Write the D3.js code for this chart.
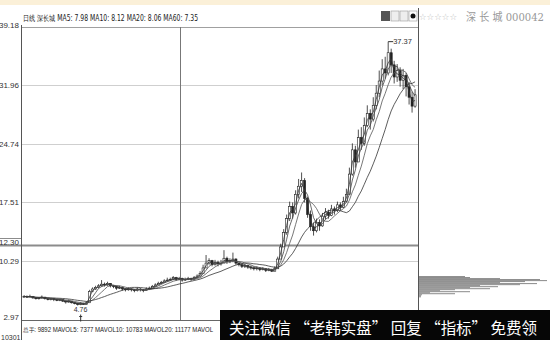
<!DOCTYPE html>
<html><head><meta charset="utf-8">
<script src="https://cdn.jsdelivr.net/npm/d3@7/dist/d3.min.js"></script>
<style>body{margin:0;background:#fff}svg{display:block}</style>
</head><body>
<svg id="c" width="550" height="340"></svg>
<script>
// ---- data ----
const closes = [5.9,5.8,5.9,5.7,5.6,5.7,5.8,5.6,5.5,5.6,5.5,5.4,5.5,
5.3,5.2,5.3,5.1,5.0,4.9,5.0,4.9,5.1,
6.5,6.8,7.0,7.2,7.4,7.3,7.5,7.2,7.1,6.9,7.0,6.8,6.7,6.8,
6.7,6.6,6.8,6.7,6.6,6.8,6.9,7.1,7.3,7.5,
7.6,7.8,7.9,8.0,8.2,8.0,8.1,
7.9,8.0,8.1,8.0,8.2,8.4,8.7,
9.4,10.0,10.3,9.8,10.1,
9.9,10.0,10.6,10.2,10.3,10.5,10.0,
9.8,9.6,9.7,9.5,9.4,
9.3,9.4,9.2,9.3,9.1,9.2,9.0,9.3,
10.5,12.0,13.8,15.5,
17.0,16.2,18.5,19.5,20.2,
18.0,16.0,14.5,14.0,
15.0,14.6,15.8,16.3,15.9,16.7,16.5,17.2,16.9,17.6,
18.5,21.0,24.0,22.5,25.5,
24.8,27.0,28.5,27.8,
29.5,31.0,32.5,34.0,
33.5,36.0,34.5,33.0,
33.8,32.6,33.2,31.8,
30.5,29.4,30.8];
const highs = [6.0,6.0,6.1,5.9,5.8,5.8,6.0,5.8,5.7,5.7,5.7,5.6,5.6,
5.5,5.4,5.5,5.3,5.2,5.1,5.2,5.1,5.3,
6.7,7.0,7.2,7.4,7.9,7.6,7.7,7.5,7.3,7.2,7.2,7.1,6.9,7.0,
6.9,6.8,7.0,6.9,6.8,7.0,7.1,7.3,7.5,7.7,
7.8,8.0,8.2,8.2,8.4,8.3,8.3,
8.2,8.2,8.3,8.2,8.4,8.6,9.0,
9.8,11.0,10.6,10.4,10.4,
10.3,10.4,11.6,10.8,10.6,11.3,10.6,
10.1,9.9,9.9,9.8,9.7,
9.6,9.6,9.5,9.5,9.4,9.4,9.3,9.6,
10.8,12.4,14.2,16.0,
17.6,17.5,19.0,20.4,21.2,
20.5,18.2,16.5,15.0,
15.5,15.4,16.2,16.8,16.6,17.2,17.0,17.6,17.5,18.2,
19.2,21.8,24.8,24.5,26.5,
26.8,28.0,29.5,29.0,
30.5,32.0,33.8,35.2,
35.5,37.37,36.5,35.0,
34.6,34.2,34.0,33.5,
32.4,31.2,31.5];
const lows = [5.7,5.7,5.8,5.6,5.5,5.5,5.6,5.5,5.4,5.4,5.3,5.3,5.3,
5.2,5.0,5.1,5.0,4.9,4.76,4.8,4.85,4.9,
5.9,6.4,6.7,6.9,7.1,7.1,7.2,7.0,6.9,6.7,6.8,6.6,6.5,6.6,
6.5,6.4,6.5,6.5,6.4,6.6,6.7,6.9,7.1,7.3,
7.4,7.6,7.7,7.8,7.9,7.8,7.9,
7.7,7.8,7.9,7.8,8.0,8.2,8.4,
8.8,9.4,9.8,9.6,9.7,
9.6,9.7,10.0,9.9,10.0,10.1,9.8,
9.6,9.4,9.4,9.3,9.2,
9.1,9.1,9.0,9.1,8.9,9.0,8.9,9.0,
9.3,10.8,12.0,13.5,
15.2,15.5,16.0,18.0,18.8,
17.5,15.6,14.0,13.4,
13.8,14.0,14.5,15.4,15.5,15.8,16.0,16.3,16.5,16.8,
17.5,18.5,20.8,21.8,22.5,
24.0,24.5,26.8,26.5,
27.5,29.0,30.5,32.0,
32.8,33.2,33.5,32.2,
32.4,31.8,31.5,30.6,
29.6,28.6,29.2];
const maWindows = [2, 4, 7, 15];
const yTicks = [39.18, 31.96, 24.74, 17.51, 12.30, 10.29, 2.97];
const profilePrices = [8.40,8.28,8.15,8.03,7.90,7.78,7.65,7.53,7.40,7.28,7.15,7.03,6.90,6.78,6.65,6.53,6.40,6.28,6.15,6.03,5.90];
const profileVols = [46,51,81,121,128,106,81,118,101,61,79,51,71,36,21,51,11,36,3,2,2];
const headerText = "日线 深长城 MA5: 7.98 MA10: 8.12 MA20: 8.06 MA60: 7.35";
const volText = "总手: 9892 MAVOL5: 7377 MAVOL10: 10783 MAVOL20: 11177 MAVOL";
const titleText = "深 长 城 000042";
const bannerText = "关注微信 “老韩实盘” 回复 “指标” 免费领";
const highLabel = "37.37", lowLabel = "4.76", volAxisLabel = "10301";

// ---- drawing ----
(function () {
const svg = d3.select("#c");
const pL = 21, pR = 418, pT = 27, pB = 320;
const x = d3.scaleBand().domain(d3.range(closes.length)).range([pL + 1, pR - 1]).padding(0.3);
const y = d3.scaleLinear().domain([2.97, 39.18]).range([pB, pT]);
const cx = i => x(i) + x.bandwidth() / 2;

// top cream band
svg.append("rect").attr("x",0).attr("y",0).attr("width",550).attr("height",5).attr("fill","#fbf0d8");

// gridlines
const grid = svg.append("g");
yTicks.forEach(v => {
  if (v === 39.18 || v === 2.97) return;
  const thick = v === 12.30;
  grid.append("line").attr("x1", pL).attr("x2", pR)
    .attr("y1", Math.round(y(v)) + 0.5).attr("y2", Math.round(y(v)) + 0.5)
    .attr("stroke", thick ? "#8c8c8c" : "#cfcfcf").attr("stroke-width", thick ? 2 : 1);
});
// 12.30 label box lines
svg.append("line").attr("x1",0).attr("x2",pL).attr("y1",Math.round(y(12.30))-6.5).attr("y2",Math.round(y(12.30))-6.5).attr("stroke","#8c8c8c");
svg.append("line").attr("x1",0).attr("x2",pL).attr("y1",Math.round(y(12.30))+0.5).attr("y2",Math.round(y(12.30))+0.5).attr("stroke","#8c8c8c").attr("stroke-width",2);

// frame
svg.append("line").attr("x1",pL).attr("x2",pR).attr("y1",pT+0.5).attr("y2",pT+0.5).attr("stroke","#a0a0a0");
svg.append("line").attr("x1",pL).attr("x2",pR).attr("y1",pB+0.5).attr("y2",pB+0.5).attr("stroke","#666");
svg.append("line").attr("x1",pL+0.5).attr("x2",pL+0.5).attr("y1",pT-2).attr("y2",340).attr("stroke","#555");
svg.append("line").attr("x1",pR+0.5).attr("x2",pR+0.5).attr("y1",8).attr("y2",340).attr("stroke","#555");
svg.append("line").attr("x1",180.5).attr("x2",180.5).attr("y1",pT).attr("y2",pB).attr("stroke","#777");

// y axis labels
const ax = svg.append("g").attr("transform",`translate(${pL},0)`)
  .call(d3.axisLeft(y).tickValues(yTicks).tickFormat(d3.format(".2f")).tickSize(0).tickPadding(2));
ax.select(".domain").remove();
ax.selectAll("text").attr("font-family","Liberation Sans, Arial, sans-serif").attr("font-size","8px").attr("fill","#333")
  .attr("dy", d => d === 39.18 ? "0.1em" : d === 2.97 ? "-0.1em" : d === 12.30 ? "0.05em" : "0.32em");

// profile
const px = d3.scaleLinear().domain([0, 128]).range([pR + 1, 547]);
svg.append("g").selectAll("rect").data(profilePrices).join("rect")
  .attr("x", pR + 1).attr("y", d => y(d)).attr("height", 1)
  .attr("width", (d,i) => px(profileVols[i]) - px(0)).attr("fill", "#8a8a8a");

// candles
const g = svg.append("g");
closes.forEach((c, i) => {
  const o = i === 0 ? c : closes[i-1];
  g.append("line").attr("x1", cx(i)).attr("x2", cx(i)).attr("y1", y(highs[i])).attr("y2", y(lows[i]))
    .attr("stroke", "#222").attr("stroke-width", 0.8);
  const up = c >= o;
  g.append("rect").attr("x", x(i)).attr("width", x.bandwidth())
    .attr("y", y(Math.max(o, c))).attr("height", Math.max(0.8, Math.abs(y(o) - y(c))))
    .attr("fill", up ? "#fff" : "#222").attr("stroke", "#222").attr("stroke-width", 0.6);
});

// moving averages
const ma = w => closes.map((_, i) => d3.mean(closes.slice(Math.max(0, i - w + 1), i + 1)));
const line = d3.line().x((d, i) => cx(i)).y(d => y(d));
const maColors = ["#333", "#444", "#555", "#333"];
maWindows.forEach((w, k) => {
  svg.append("path").datum(ma(w)).attr("d", line).attr("fill", "none")
    .attr("stroke", maColors[k]).attr("stroke-width", 0.8);
});

// high / low labels
const hiIdx = highs.indexOf(d3.max(highs));
svg.append("line").attr("x1", cx(hiIdx)).attr("x2", cx(hiIdx) + 5).attr("y1", y(highs[hiIdx])).attr("y2", y(highs[hiIdx])).attr("stroke","#333");
svg.append("text").attr("x", cx(hiIdx) + 5).attr("y", y(highs[hiIdx]) + 2.5).text(highLabel)
  .attr("font-family","Liberation Sans, Arial, sans-serif").attr("font-size","7.5px").attr("fill","#333");
const loIdx = lows.indexOf(d3.min(lows));
svg.append("text").attr("x", cx(loIdx) - 4).attr("y", y(lows[loIdx]) + 6).text(lowLabel)
  .attr("font-family","Liberation Sans, Arial, sans-serif").attr("font-size","7px").attr("fill","#333");
svg.append("path").attr("d", `M${cx(loIdx)+3},${y(lows[loIdx])+9} v7 M${cx(loIdx)+1.5},${y(lows[loIdx])+11} h3`).attr("stroke","#333").attr("fill","none");

// header
svg.append("text").attr("x", 23).attr("y", 21).text(headerText)
  .attr("font-family","DejaVu Sans, sans-serif").attr("font-size","8px").attr("fill","#222")
  .attr("textLength", 175).attr("lengthAdjust","spacingAndGlyphs");

// top-right icons
svg.append("rect").attr("x",381).attr("y",11).attr("width",9).attr("height",10).attr("fill","#555");
svg.append("rect").attr("x",391).attr("y",11).attr("width",8).attr("height",10).attr("fill","#eee").attr("stroke","#999").attr("stroke-width",0.6);
svg.append("rect").attr("x",400).attr("y",11).attr("width",8).attr("height",10).attr("fill","#eee").attr("stroke","#999").attr("stroke-width",0.6);
svg.append("rect").attr("x",409).attr("y",11).attr("width",8).attr("height",10).attr("fill","#fff").attr("stroke","#999").attr("stroke-width",0.6);
svg.append("circle").attr("cx",413).attr("cy",16).attr("r",2.5).attr("fill","#111");
svg.append("text").attr("x",419).attr("y",20).text("☆☆☆☆☆")
  .attr("font-family","DejaVu Sans, sans-serif").attr("font-size","9px").attr("fill","#bbb")
  .attr("textLength", 38).attr("lengthAdjust","spacingAndGlyphs");
svg.append("text").attr("x",466).attr("y",21).text(titleText)
  .attr("font-family","DejaVu Serif, Noto Sans CJK SC, serif").attr("font-size","11px").attr("fill","#999")
  .attr("textLength", 78).attr("lengthAdjust","spacingAndGlyphs");

// bottom volume header
svg.append("text").attr("x", 23).attr("y", 332).text(volText)
  .attr("font-family","Liberation Sans, Arial, sans-serif").attr("font-size","6.4px").attr("fill","#222")
  .attr("textLength", 190).attr("lengthAdjust","spacingAndGlyphs");
svg.append("text").attr("x", 1).attr("y", 340).text(volAxisLabel)
  .attr("font-family","Liberation Sans, Arial, sans-serif").attr("font-size","7px").attr("fill","#333");

// banner
svg.append("rect").attr("x",220).attr("y",310).attr("width",330).attr("height",30).attr("fill","#060606");
svg.append("text").attr("x",229).attr("y",334).text(bannerText)
  .attr("font-family","Noto Sans CJK SC, sans-serif").attr("font-size","16px").attr("fill","#fff")
  .attr("textLength", 308).attr("lengthAdjust","spacingAndGlyphs");
})();
</script>
</body></html>
